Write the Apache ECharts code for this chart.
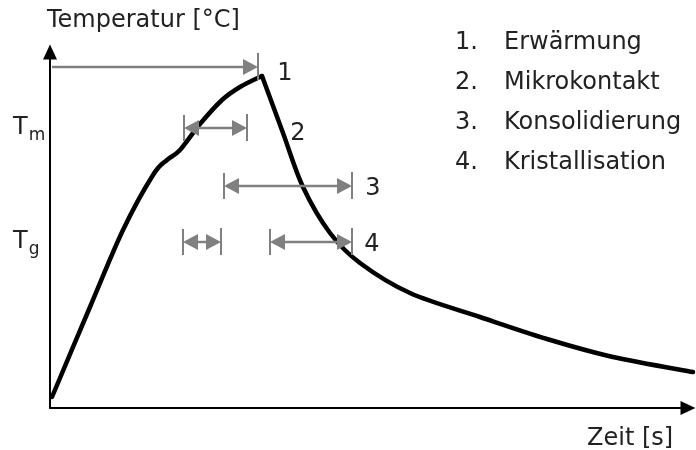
<!DOCTYPE html>
<html>
<head>
<meta charset="utf-8">
<script src="https://cdn.jsdelivr.net/npm/echarts@6/dist/echarts.min.js"></script>
<style>
  html, body { margin: 0; padding: 0; background: #fff; }
  #chart { width: 696px; height: 450px; }
</style>
</head>
<body>
<div id="chart"></div>
<script>
// Temperaturverlauf (schematisch), Einheiten frei
// Aufheizen bis zum Maximum
const riseX = [2, 40, 73, 103, 117, 130, 150, 172, 190, 212];
const riseY = [11, 101, 178, 233, 248, 258, 284, 308, 321, 332];
// Abkuehlen ab dem Maximum
const fallX = [212, 233, 253, 280, 310, 360, 430, 497, 563, 643];
const fallY = [332, 275, 221, 175, 145, 115, 91, 69, 51, 36];

// Phasen-Pfeile: start, ende, hoehe, beidseitig (1) oder nur rechts (0)
const arrowStart = [2, 134, 174, 133, 220];
const arrowEnd = [208, 197, 302, 171, 302];
const arrowLevel = [341, 280, 222, 166, 166];
const arrowBoth = [0, 1, 1, 1, 1];

const phaseNo = ['1', '2', '3', '4'];
const phaseX = [235, 248, 323, 322];
const phaseY = [334, 274, 219, 163];

const legendNo = ['1.', '2.', '3.', '4.'];
const legendText = ['Erwärmung', 'Mikrokontakt', 'Konsolidierung', 'Kristallisation'];

const font = 'DejaVu Sans';
const textColor = '#222';

const myChart = echarts.init(document.getElementById('chart'));

const segments = [[riseX, riseY], [fallX, fallY]];
const curveData = segments.map((s, i) => [s[0][0], s[1][0], i]);
const arrowData = arrowStart.map((s, i) => [s, arrowEnd[i], arrowLevel[i], arrowBoth[i]]);
const phaseData = phaseX.map((x, i) => [x, phaseY[i], phaseNo[i]]);

// Kurvenstueck als Catmull-Rom-Spline durch die Punkte
function renderCurve(params, api) {
  const seg = segments[api.value(2)];
  const pts = seg[0].map((x, i) => api.coord([x, seg[1][i]]));
  let d = 'M' + pts[0][0] + ' ' + pts[0][1];
  for (let i = 0; i < pts.length - 1; i++) {
    const p0 = pts[Math.max(i - 1, 0)];
    const p1 = pts[i];
    const p2 = pts[i + 1];
    const p3 = pts[Math.min(i + 2, pts.length - 1)];
    const c1x = p1[0] + (p2[0] - p0[0]) / 6, c1y = p1[1] + (p2[1] - p0[1]) / 6;
    const c2x = p2[0] - (p3[0] - p1[0]) / 6, c2y = p2[1] - (p3[1] - p1[1]) / 6;
    d += ' C' + c1x + ' ' + c1y + ' ' + c2x + ' ' + c2y + ' ' + p2[0] + ' ' + p2[1];
  }
  return {
    type: 'path',
    shape: { pathData: d },
    style: { fill: 'none', stroke: '#000', lineWidth: 4.5, lineJoin: 'round', lineCap: 'round' }
  };
}

const gray = '#808080';
const headL = 15, headW = 8, tickH = 13;

function renderArrow(params, api) {
  const p1 = api.coord([api.value(0), api.value(2)]);
  const p2 = api.coord([api.value(1), api.value(2)]);
  const both = api.value(3) === 1;
  const y = p2[1];
  const children = [
    { type: 'line', shape: { x1: p1[0] + (both ? headL - 2 : 0), y1: y, x2: p2[0] - headL + 2, y2: y },
      style: { stroke: gray, lineWidth: 2.5 } },
    { type: 'polygon', shape: { points: [[p2[0], y], [p2[0] - headL, y - headW], [p2[0] - headL, y + headW]] },
      style: { fill: gray } },
    { type: 'line', shape: { x1: p2[0], y1: y - tickH - 1, x2: p2[0], y2: y + tickH },
      style: { stroke: gray, lineWidth: 2 } }
  ];
  if (both) {
    children.push(
      { type: 'polygon', shape: { points: [[p1[0], y], [p1[0] + headL, y - headW], [p1[0] + headL, y + headW]] },
        style: { fill: gray } },
      { type: 'line', shape: { x1: p1[0], y1: y - tickH, x2: p1[0], y2: y + tickH },
        style: { stroke: gray, lineWidth: 2 } }
    );
  }
  return { type: 'group', children: children };
}

const fs = 24;
const graphics = [
  { type: 'text', left: 47, top: 9, style: { text: 'Temperatur [°C]', fontFamily: font, fontSize: fs, fill: textColor } },
  { type: 'text', left: 587, top: 427, style: { text: 'Zeit [s]', fontFamily: font, fontSize: fs, fill: textColor } },
  { type: 'text', left: 13, top: 116, style: {
      text: '{a|T}{b|m}', fill: textColor,
      rich: { a: { fontFamily: font, fontSize: fs, color: textColor },
              b: { fontFamily: font, fontSize: 17, color: textColor, verticalAlign: 'bottom', padding: [0, 0, -4, 1] } } } },
  { type: 'text', left: 13, top: 230, style: {
      text: '{a|T}{b|g}', fill: textColor,
      rich: { a: { fontFamily: font, fontSize: fs, color: textColor },
              b: { fontFamily: font, fontSize: 17, color: textColor, verticalAlign: 'bottom', padding: [0, 0, -4, 1] } } } }
];
legendNo.forEach((n, i) => {
  graphics.push({ type: 'text', left: 455, top: 31 + i * 40, style: { text: n, fontFamily: font, fontSize: fs, fill: textColor } });
  graphics.push({ type: 'text', left: 504, top: 31 + i * 40, style: { text: legendText[i], fontFamily: font, fontSize: fs, fill: textColor } });
});

const option = {
  animation: false,
  grid: { left: 50, right: 8, top: 52, bottom: 42 },
  xAxis: {
    type: 'value', min: 0, max: 638,
    axisLine: { show: true, symbol: ['none', 'triangle'], symbolSize: [14, 15], lineStyle: { color: '#000', width: 2 } },
    axisTick: { show: false }, axisLabel: { show: false }, splitLine: { show: false }
  },
  yAxis: {
    type: 'value', min: 0, max: 356,
    axisLine: { show: true, symbol: ['none', 'triangle'], symbolSize: [14, 15], lineStyle: { color: '#000', width: 2 } },
    axisTick: { show: false }, axisLabel: { show: false }, splitLine: { show: false }
  },
  graphic: graphics,
  series: [
    {
      type: 'custom',
      renderItem: renderCurve,
      data: curveData,
      clip: false,
      z: 3
    },
    {
      type: 'custom',
      renderItem: renderArrow,
      data: arrowData,
      z: 4
    },
    {
      type: 'scatter',
      data: phaseData,
      symbolSize: 0,
      itemStyle: { opacity: 1 },
      label: {
        show: true, position: 'inside', formatter: p => p.value[2],
        fontFamily: font, fontSize: fs, color: textColor
      }
    }
  ]
};

myChart.setOption(option);
</script>
</body>
</html>
